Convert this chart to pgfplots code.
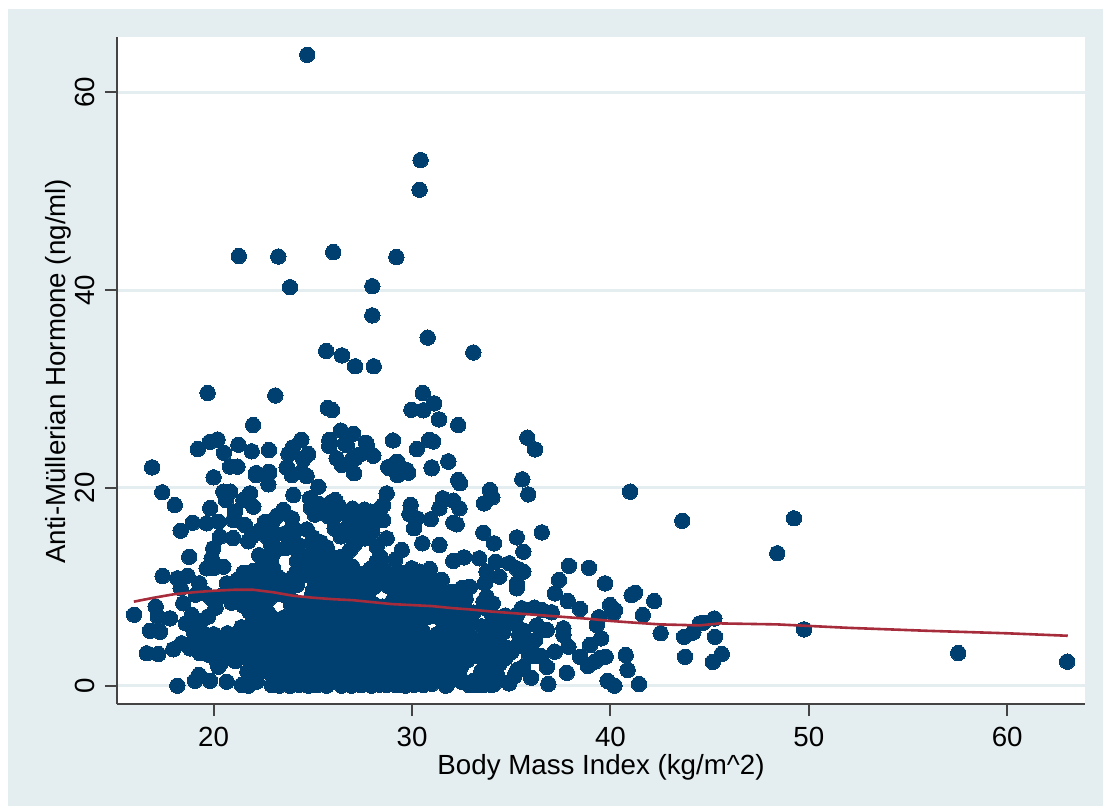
\documentclass[border=0pt]{standalone}
\usepackage{pgfplots}
\pgfplotsset{compat=1.18}
\usepackage{fontspec}
\setmainfont{Liberation Sans}
\definecolor{panel}{HTML}{E4EEF1}
\definecolor{dots}{HTML}{004070}
\definecolor{fitline}{HTML}{A62B3B}
\definecolor{axisgray}{HTML}{444444}
\begin{document}
\begin{tikzpicture}[x=1pt,y=1pt]
\fill[white] (0,0) rectangle (1103,807);
\fill[panel] (8,1) rectangle (1103,798);
\begin{axis}[
  at={(117pt,103pt)}, anchor=south west,
  width=968pt, height=667pt, scale only axis,
  xmin=15.13, xmax=63.92, ymin=-1.85, ymax=65.6,
  axis x line*=bottom, axis y line*=left,
  axis line style={-, color=axisgray, line width=2pt},
  axis background/.style={fill=white},
  xtick={20,30,40,50,60}, ytick={0,20,40,60},
  tick style={color=axisgray, line width=2pt},
  tick align=outside, major tick length=12pt,
  ymajorgrids, grid style={color=panel, line width=3pt},
  tick label style={font=\fontsize{27.7}{30}\selectfont, /pgf/number format/assume math mode=true},
  xticklabel style={yshift=-8pt},
  yticklabel style={rotate=90, anchor=south, yshift=7pt},
  label style={font=\fontsize{27.7}{30}\selectfont},
  xlabel={Body Mass Index (kg/m\^{}2)},
  ylabel={Anti-Müllerian Hormone (ng/ml)},
  xlabel style={at={(rel axis cs:0.5,-0.0945)}, anchor=center},
  ylabel style={at={(rel axis cs:-0.061,0.499)}, anchor=center, rotate=0},
  clip=false,
]
\addplot[only marks, mark=*, mark size=7.7pt, mark options={draw=dots, fill=dots, line width=0pt}] coordinates {
(24.72,63.8) (30.43,53.15) (30.38,50.15)
(21.27,43.45) (23.26,43.4) (26.03,43.85) (29.21,43.35) (23.85,40.3) (28.0,40.4) (28.0,37.45)
(30.79,35.2) (33.09,33.7) (25.67,33.85) (26.47,33.4) (27.13,32.3) (28.07,32.3)
(19.7,29.6) (23.11,29.35) (30.54,29.6) (31.11,28.55) (29.97,27.9) (30.57,27.85) (25.75,28.08) (25.97,27.88)
(31.36,26.93) (32.33,26.36) (21.99,26.36) (26.41,25.8) (27.04,25.48) (29.04,24.8) (24.42,24.87) (20.2,24.9) (19.82,24.67)
(19.2,23.93) (20.52,23.56) (21.25,24.37) (21.92,23.7) (22.79,23.83) (25.83,24.84) (25.83,24.24) (27.68,24.57) (30.86,24.84) (31.07,24.7)
(30.24,23.93) (31.83,22.69) (23.99,24.1) (23.77,23.43) (24.77,23.43) (24.52,22.92) (26.62,24.5) (28.05,23.25) (26.2,23.0) (27.03,23.03) (27.38,23.4)
(29.23,22.65) (28.8,22.1) (29.73,21.8) (30.99,22.08) (20.83,22.15) (21.2,22.15) (22.14,21.5) (22.79,21.64) (23.71,22.08) (24.44,21.64)
(16.9,22.08) (17.41,19.56) (18.04,18.27) (20.0,21.07) (22.14,21.3) (22.8,21.5) (22.76,20.36) (23.68,22.08) (23.94,21.3) (24.69,21.2) (25.28,20.12)
(24.02,19.28) (24.86,18.95) (26.12,18.78) (23.51,17.77) (23.94,16.93) (20.49,19.62) (20.83,19.62) (20.62,18.78) (21.83,19.45) (21.5,18.78) (22.0,18.1) (21.08,17.6)
(19.83,17.97) (18.95,16.48) (18.34,15.67) (19.65,16.42) (20.24,16.58) (20.32,15.07) (21.0,16.75) (21.58,16.25) (20.98,14.93) (19.98,13.89) (19.9,12.88) (19.65,11.87)
(20.49,12.03) (20.0,11.9) (18.77,13.04) (17.43,11.09) (18.17,10.86) (18.69,11.12) (19.28,10.35) (18.34,9.85) (20.66,10.35) (21.92,15.07) (22.59,16.58) (23.01,16.75)
(22.34,15.74) (21.75,14.6) (22.68,15.07) (21.5,11.4) (22.0,11.6) (22.84,12.71) (23.01,13.39) (22.3,13.2)
(35.81,25.08) (36.2,23.9) (35.56,20.87) (35.86,19.35) (36.54,15.5) (35.28,15.0) (35.61,13.55) (34.13,14.4) (33.59,15.47)
(40.99,19.62) (43.62,16.68) (49.25,16.93) (48.41,13.39) (49.76,5.7) (57.53,3.3) (63.02,2.43)
(45.27,4.95) (45.61,3.2) (45.16,2.4) (45.24,6.8) (44.68,6.37) (44.15,5.36) (43.71,4.95) (43.76,2.93) (44.18,5.4) (44.5,6.3)
(41.07,9.17) (41.24,9.4) (42.21,8.56) (41.63,7.15) (42.53,5.3) (37.91,12.13) (38.92,11.93) (39.73,10.35) (37.41,10.69) (37.2,9.34) (37.85,8.56) (38.47,7.76)
(39.98,8.16) (40.23,7.65) (40.15,7.32) (39.42,6.92) (39.31,6.14) (37.63,5.8) (37.63,5.13) (36.79,5.63) (39.53,4.79) (38.97,4.11) (37.88,3.94) (37.2,3.44)
(38.47,2.93) (39.22,2.43) (39.48,2.83) (39.76,2.93) (38.86,1.99) (40.77,3.1) (40.87,1.59) (39.86,0.48) (40.2,0) (41.44,0.17) (37.8,1.31) (36.87,0.17) (36.0,0.81) (35.16,0.98) (34.89,0.24)
(34.13,0.17) (33.59,0.07) (32.87,0.07) (32.5,0.4) (31.75,0.07)
(33.93,19.79) (34.05,19.05) (33.63,18.44) (32.33,20.8) (32.42,20.47) (31.83,22.65) (30.99,21.98)
(29.26,22.65) (28.86,21.98) (29.81,21.54) (29.26,21.3) (28.72,19.45) (28.55,18.27) (27.08,21.48) (27.13,23) (27.72,24.34) (26.71,24.34) (26.46,22.32)
(29.93,18.27) (29.87,17.36) (30.24,16.93) (30.1,15.92) (30.94,16.83) (31.38,17.94) (31.55,18.95) (32.08,18.71) (32.39,17.94) (32.08,16.48) (32.25,16.32)
(30.52,14.4) (31.38,14.23) (32.08,12.61) (32.62,12.98) (33.39,12.88) (34.22,12.54) (34.9,12.38) (35.27,11.87) (35.61,11.53) (33.76,11.53) (34.4,11.02) (33.67,10.35)
(32.53,9.91) (32.92,10.0) (35.28,10.35) (35.28,9.85) (33.76,9.0) (33.6,8.5) (34.07,8.33) (32.42,7.83) (35.53,7.83) (36.16,7.89) (37.04,7.42) (36.54,7.65)
(28.72,14.9) (29.48,13.72) (29.14,12.71) (29.99,11.87) (30.4,11.53) (30.9,11.8) (31.5,10.69) (30.9,10.0) (28.47,18.1) (28.55,16.75) (27.97,17.09) (27.13,16.93)
(26.62,15.24) (27.1,14.3) (27.63,14.9) (28.22,14.05) (28.39,13.05) (28.2,12.5) (26.87,13.72) (26.4,13) (27.13,11.36) (27.88,11.4) (28.72,11.36) (29.4,10.69) (27.63,16.42)
% left lower
(15.99,7.18) (17.08,7.99) (17.8,6.81) (17.2,6.95) (16.79,5.56) (17.3,5.46) (16.63,3.28) (17.21,3.2) (17.97,3.68) (18.39,4.29) (18.81,3.78) (19.31,3.28)
(20.24,1.92) (18.47,8.33) (19.3,6.33) (18.9,7.15) (19.72,6.98) (19.47,5.33) (18.17,0) (19.06,0.5) (19.26,1.08) (19.82,0.5) (20.66,0.4) (21.42,0.07) (21.75,0) (22.17,0.4) (22.93,0.07)
(23.85,0) (24.76,0) (25.7,0) (26.46,0) (26.96,0) (27.97,0) (28.73,0.07) (29.65,0) (30.57,0.07) (31.71,0) (33.26,0.07) (34.02,0.07)
(23.3,0) (24.3,0.1) (25.2,0.05) (27.45,0.05) (28.35,0.1) (29.2,0.05) (30.1,0.1) (31.0,0.2)
(19.9,8.8) (20.1,7.9) (20.9,8.4) (21.6,8.7) (21.8,7.5) (22.0,6.6) (21.4,5.9) (20.0,5.2) (20.7,5.3) (19.9,4.2) (20.5,4.1) (21.2,4.6) (19.8,3.1) (20.5,2.9) (21.2,3.4) (20.4,2.4) (21.1,2.5) (21.7,1.4)
(20.3,3.5) (20.9,3.9) (21.5,2.9) (21.5,4.2) (20.3,4.7) (21.0,5.0) (21.7,5.4) (21.0,3.0) (20.1,2.7) (19.6,4.0) (19.4,4.6) (19.1,4.4) (19.0,5.4) (18.6,6.3)
(22.2,7.9) (21.2,8.9) (20.4,9.1) (19.6,9.3) (19.1,9.2)
% block rows
(22.0,9.8) (22.7,9.6) (23.1,9.9) (23.65,9.6) (25.0,9.6) (25.7,9.7) (26.4,9.5) (27.1,9.8) (27.8,9.6) (29.2,9.7) (29.9,9.5) (30.6,9.6) (31.3,9.7) (32.0,9.5) (32.7,8.8) (20.9,9.6) (21.6,9.9)
(23.3,10.9) (24.0,11.0) (24.7,11.2) (25.4,11.0) (26.1,11.2) (26.8,11.0) (27.5,11.3) (28.2,11.0) (28.9,11.2) (29.6,10.9) (30.3,11.0) (31.0,10.8) (22.7,10.7) (21.9,10.5) (21.2,10.7)
(24.2,12.6) (24.9,12.9) (25.6,12.5) (26.7,12.4) (22.9,12.5) (22.4,11.8) (23.0,11.2)
(22.9,14.2) (23.6,13.9) (24.3,14.2) (25.0,14.4) (25.4,14.5) (25.7,14.0)
(23.6,15.4) (24.7,15.8) (26.1,15.9) (26.4,15.1) (27.4,15.6) (28.0,15.5)
(23.2,17.2) (25.1,17.3) (25.8,17.1) (26.3,17.4) (26.9,16.9) (27.6,17.2) (28.2,17.0) (24.9,18.9) (25.3,18.4) (25.9,18.5) (26.3,18.2) (27.0,17.9) (27.9,17.6)
(22.2,8.4) (22.8,8.8) (24.0,8.6) (24.7,8.3) (25.4,8.5) (26.1,8.3) (26.8,8.6) (27.5,8.3) (28.5,8.0) (29.0,8.5) (29.7,8.3) (30.4,8.5) (31.1,8.3) (31.8,8.6) (24.35,8.2)
(22.7,7.5) (24.0,7.3) (24.7,7.5) (25.4,7.2) (26.1,7.4) (26.8,7.2) (27.5,7.4) (28.2,7.2) (28.9,7.4) (29.6,7.2) (30.3,7.4) (31.3,7.5) (32.0,7.2) (32.6,7.3) (33.1,7.4) (34.0,7.3) (34.7,7.1) (35.3,7.2) (33.6,7.9)
(22.6,6.2) (23.4,6.6) (24.1,6.1) (24.8,6.3) (25.5,6.1) (26.2,6.3) (26.9,6.0) (27.6,6.3) (28.3,6.0) (29.0,6.2) (29.7,6.0) (30.4,6.2) (31.7,6.0) (32.3,5.9) (33.0,6.4) (34.2,6.2) (35.1,6.3) (36.3,6.1)
(21.9,5.0) (22.7,5.4) (23.4,5.0) (24.1,4.9) (24.8,5.1) (25.5,4.9) (26.2,5.1) (26.9,4.8) (27.6,5.1) (28.3,4.8) (29.0,5.0) (29.7,4.8) (30.4,5.0) (31.0,4.7) (31.7,4.5) (32.4,4.8) (33.0,4.4) (34.3,4.6) (35.6,4.9) (36.2,4.6) (35.3,4.0)
(21.8,3.5) (22.5,3.4) (23.1,3.7) (24.3,3.6) (25.0,3.8) (25.7,3.6) (26.4,3.8) (27.1,3.6) (27.8,3.8) (28.5,3.6) (29.2,3.8) (29.9,3.6) (30.5,3.7) (31.0,3.3) (31.7,3.1) (32.4,3.4) (33.1,3.0) (33.8,3.4) (34.5,3.2) (34.7,2.8) (35.9,3.1) (36.5,3.0) (36.2,3.0)
(22.1,2.2) (22.8,2.1) (23.5,2.3) (24.9,2.3) (25.6,2.1) (26.3,2.3) (27.7,2.1) (28.4,2.3) (29.1,2.1) (29.8,2.3) (30.4,2.1) (31.0,2.0) (31.7,2.1) (32.5,2.0) (33.7,2.1) (34.4,2.2) (35.6,1.9) (36.8,1.9) (35.3,1.6)
(23.0,1.0) (23.7,1.1) (24.4,0.9) (25.1,1.1) (25.8,0.9) (26.5,1.1) (27.2,0.9) (27.9,1.1) (28.6,0.9) (29.3,1.1) (30.0,0.9) (30.6,1.1) (31.1,0.9) (32.4,1.0) (33.1,0.5) (33.7,0.9) (34.3,1.0)
% staggered second layer of the solid block
(22.4,1.5) (23.3,1.6) (24.0,1.7) (24.7,1.5) (25.4,1.6) (26.1,1.5) (26.8,1.7) (27.5,1.5) (28.2,1.6) (28.9,1.5) (29.6,1.7) (30.3,1.5) (31.0,1.4)
(22.5,2.8) (23.2,2.9) (24.0,2.8) (24.7,3.0) (25.3,2.8) (26.0,3.0) (26.7,2.8) (27.4,2.9) (28.1,2.8) (28.8,3.0) (29.5,2.8) (30.2,3.0) (30.9,2.7)
(22.2,4.2) (22.9,4.3) (23.7,4.3) (24.4,4.2) (25.1,4.4) (25.8,4.2) (26.5,4.4) (27.2,4.2) (27.9,4.4) (28.6,4.2) (29.3,4.4) (30.0,4.2) (30.7,4.3)
(22.3,5.7) (23.0,5.8) (23.8,5.6) (24.5,5.7) (25.2,5.5) (25.9,5.7) (26.6,5.5) (27.3,5.7) (28.0,5.5) (28.7,5.6) (29.4,5.5) (30.1,5.7) (30.5,5.6)
(22.4,6.8) (23.2,5.9) (24.4,6.8) (25.1,6.7) (25.8,6.8) (26.5,6.7) (27.2,6.8) (27.9,6.7) (28.6,6.8) (29.3,6.7) (30.0,6.8) (30.7,6.9) (31.5,6.8)
(24.4,7.9) (25.1,7.9) (25.8,7.8) (26.5,7.9) (27.2,7.8) (27.9,7.9) (29.3,7.8) (30.0,7.9) (30.7,7.8) (31.4,7.9)
(22.5,9.1) (23.3,9.3) (25.4,9.1) (26.1,9.0) (26.8,9.1) (27.5,9.0) (29.4,9.0) (30.1,9.1) (30.8,9.0) (31.5,9.1) (32.2,8.6) (32.6,7.9)
(21.5,10.3) (22.4,10.2) (23.0,10.4) (23.7,10.3) (25.1,10.3) (25.8,10.4) (26.5,10.3) (27.2,10.4) (27.9,10.3) (28.9,10.3) (29.6,10.2) (30.3,10.3) (31.1,9.8)
(24.5,11.8) (25.2,11.7) (25.9,11.8) (26.6,11.7) (27.9,11.8) (28.6,11.7) (29.3,11.5) (23.0,11.9) (24.2,11.6)
(24.3,13.3) (25.0,13.4) (25.6,13.2) (26.0,13.0) (24.6,13.0)
(23.0,15.0) (24.0,15.0) (25.0,15.0) (27.2,14.6) (22.9,16.0) (24.0,16.0) (26.8,16.2) (27.3,16.3) (28.0,16.2)
(24.9,18.0) (25.6,17.9) (26.3,17.9) (27.0,17.7) (27.6,17.8)
(31.4,1.5) (32.1,1.6) (31.4,2.6) (32.1,2.7) (32.8,2.6) (33.6,2.8) (34.3,2.7) (31.3,3.9) (32.0,3.9) (32.7,4.0) (33.4,4.1) (34.1,3.9) (34.8,3.8) (35.8,3.9)
(31.4,5.3) (32.1,5.2) (32.8,5.3) (34.0,5.3) (34.6,5.4) (35.6,5.6) (31.6,6.9) (32.3,6.6) (34.1,6.8) (34.8,6.7) (35.2,6.8)
% third layer
(22.15,1.2) (22.85,1.3) (23.55,1.2) (24.25,1.3) (24.95,1.2) (25.65,1.3) (26.35,1.2) (27.05,1.3) (27.75,1.2) (28.45,1.3) (29.15,1.2) (29.85,1.3) (30.55,1.2) (31.25,1.3) (31.95,1.2)
(22.5,2.4) (23.2,2.5) (23.9,2.4) (24.6,2.5) (25.3,2.4) (26.0,2.5) (26.7,2.4) (27.4,2.5) (28.1,2.4) (28.8,2.5) (29.5,2.4) (30.2,2.5) (30.9,2.4) (31.6,2.5) (32.3,2.4)
(22.15,3.3) (22.85,3.2) (23.55,3.3) (24.25,3.2) (24.95,3.3) (25.65,3.2) (26.35,3.3) (27.05,3.2) (27.75,3.3) (28.45,3.2) (29.15,3.3) (29.85,3.2) (30.55,3.3) (31.25,3.2) (31.95,3.3) (32.65,3.2)
(22.5,4.0) (23.2,4.0) (23.9,3.9) (24.6,4.0) (25.3,3.9) (26.0,4.0) (26.7,3.9) (27.4,4.0) (28.1,3.9) (28.8,4.0) (29.5,3.9) (30.2,4.0) (30.9,3.9) (31.6,4.0) (32.3,3.9) (33.0,4.0)
(22.15,5.3) (22.85,5.2) (23.55,5.3) (24.25,5.2) (24.95,5.3) (25.65,5.2) (26.35,5.3) (27.05,5.2) (27.75,5.3) (28.45,5.2) (29.15,5.3) (29.85,5.2) (30.55,5.3) (31.25,5.2) (31.95,5.3) (32.65,5.2)
(22.5,6.5) (23.2,6.4) (23.9,6.5) (24.6,6.4) (25.3,6.5) (26.0,6.4) (26.7,6.5) (27.4,6.4) (28.1,6.5) (28.8,6.4) (29.5,6.5) (30.2,6.4) (30.9,7.0) (31.6,6.4) (32.3,6.5)
(22.15,7.0) (22.85,7.1) (23.55,6.9) (24.25,7.0) (24.95,7.1) (25.65,7.0) (26.35,7.1) (27.05,7.0) (27.75,7.1) (28.45,7.0) (29.15,7.1) (29.85,7.0) (30.55,7.1) (31.25,7.0) (31.95,7.1) (32.65,7.0)
(22.5,8.2) (23.9,8.2) (24.6,8.1) (25.3,8.2) (26.0,8.1) (26.7,8.2) (27.4,8.1) (28.1,8.2) (28.8,8.1) (29.5,8.2) (30.2,8.1) (30.9,8.2) (31.6,8.1) (32.3,8.2)
(22.15,9.2) (22.85,9.1) (23.55,9.2) (24.95,9.1) (25.65,9.2) (26.35,9.1) (27.05,9.2) (27.75,9.1) (29.15,9.2) (29.85,9.1) (30.55,9.2) (31.25,9.1) (31.95,9.2) (32.3,9.0)
(22.5,10.0) (23.2,10.1) (23.9,10.0) (25.3,10.1) (26.0,10.0) (26.7,10.1) (27.4,10.0) (28.1,10.0) (28.8,10.1) (29.5,10.0) (30.2,10.1) (30.9,10.3)
(21.4,9.2) (21.0,10.2) (21.5,8.1) (22.6,11.3) (24.2,10.2) (25.0,12.0) (26.2,12.1) (27.0,12.0) (29.6,11.4)
(33.5,6.0) (34.5,5.9) (35.4,5.1) (33.5,4.7) (33.2,3.5) (35.0,3.4) (34.0,1.5) (33.5,1.5) (32.0,0.7) (33.7,5.2)
};
\end{axis}
\begin{axis}[
  at={(117pt,103pt)}, anchor=south west,
  width=968pt, height=667pt, scale only axis,
  xmin=15.13, xmax=63.92, ymin=-1.85, ymax=65.6,
  hide axis, clip=false,
]
\addplot[fitline, line width=2.6pt, line join=round] coordinates {
(15.98,8.5) (17,8.9) (18,9.25) (19,9.45) (20,9.6) (21,9.7) (22,9.7) (23,9.45) (24,9.1) (25,8.9) (26,8.75) (27,8.65) (28,8.45) (29,8.25) (30,8.15) (31,8.05) (32,7.85) (33,7.7) (34,7.5) (35,7.35) (36,7.2) (37,7.05) (38,6.9) (39,6.75) (40,6.55) (41.24,6.37) (42.5,6.2) (44.5,6.1) (45.5,6.3) (48.4,6.2) (52,5.85) (56,5.55) (60,5.3) (63.05,5.05)
};
\end{axis}
\end{tikzpicture}
\end{document}
